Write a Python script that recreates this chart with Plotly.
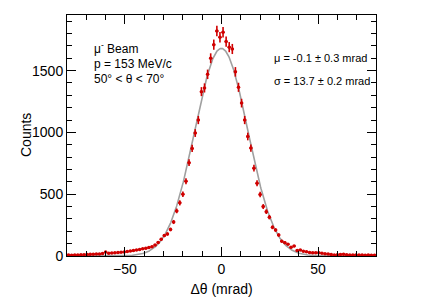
import numpy as np
import plotly.graph_objects as go

# Histogram: 100 bins from -80 to 80 mrad (width 1.6)
bin_low = -80.0
bin_width = 1.6
counts = [
    8, 6, 9, 8, 10, 11, 12, 14, 15, 16,
    17, 20, 33, 22, 24, 26, 28, 30, 33, 36,
    40, 44, 48, 52, 58, 62, 68, 75, 88, 110,
    135, 165, 178, 215, 275, 365, 430, 500, 605, 755,
    870, 995, 1100, 1330, 1360, 1470, 1600, 1710, 1820, 1770,
    1810, 1735, 1690, 1675, 1490, 1365, 1237, 1100, 967, 873,
    711, 588, 497, 400, 359, 314, 232, 210, 170, 120,
    108, 96, 70, 80, 45, 48, 38, 35, 28, 27,
    27, 27, 22, 18, 16, 12, 9, 10, 13, 14,
    11, 9, 8, 9, 8, 8, 7, 8, 6, 6,
]
centers = bin_low + bin_width * (np.arange(len(counts)) + 0.5)
errors = np.sqrt(np.array(counts, dtype=float))

# Gaussian fit parameters
fit_amp = 1680.0
fit_mu = -0.1
fit_sigma = 13.7
xf = np.linspace(-80, 80, 801)
yf = fit_amp * np.exp(-0.5 * ((xf - fit_mu) / fit_sigma) ** 2)

red = "#d00000"
fig = go.Figure()
fig.add_trace(go.Scatter(x=xf, y=yf, mode="lines",
                         line=dict(color="#a0a0a0", width=1.6),
                         hoverinfo="skip", showlegend=False))
fig.add_trace(go.Scatter(
    x=centers, y=counts, mode="markers",
    marker=dict(color=red, size=3.5, symbol="circle"),
    error_y=dict(type="data", array=errors, visible=True,
                 color=red, thickness=1.6, width=0),
    error_x=dict(type="constant", value=bin_width / 2, visible=True,
                 color=red, thickness=1.6, width=0),
    showlegend=False))

font_family = "Liberation Sans, Arial, sans-serif"
axis_common = dict(
    showline=True, linecolor="black", linewidth=1, mirror="allticks",
    ticks="inside", ticklen=9, tickwidth=1, tickcolor="black",
    showgrid=False, zeroline=False,
    tickfont=dict(family=font_family, size=14, color="black"),
)
fig.update_xaxes(range=[-80, 80], tickvals=[-50, 0, 50],
                 ticktext=["\u221250", "0", "50"],
                 minor=dict(ticks="inside", ticklen=5, tickwidth=1, tickcolor="black", dtick=10, tick0=0, showgrid=False),
                 title=dict(text="\u0394\u03b8 (mrad)", font=dict(family=font_family, size=14, color="black"), standoff=8),
                 **axis_common)
fig.update_yaxes(range=[0, 1950], tickvals=[0, 500, 1000, 1500],
                 minor=dict(ticks="inside", ticklen=5, tickwidth=1, tickcolor="black", dtick=100, tick0=0, showgrid=False),
                 **axis_common)

# The page body has an 8px default margin; compensate so the plot area
# lands at x 67..376, y 15..256 in the 443x302 window.
OFF = 8
W, H = 443 - OFF, 302 - OFF
ML, MR, MT, MB = 67 - OFF, 67, 15 - OFF, 46
PW, PH = W - ML - MR, H - MT - MB


def to_plot(px, py):
    # window pixel -> plot-area paper fraction
    return (px - OFF - ML) / PW, 1 - (py - OFF - MT) / PH


# y-axis title
tx, ty = to_plot(26, 135)
fig.add_annotation(x=tx, y=ty, xref="paper", yref="paper", text="Counts",
                   textangle=-90, showarrow=False, xanchor="center", yanchor="middle",
                   font=dict(family=font_family, size=14, color="black"))

for txt, py in [("\u03bc<sup>-</sup> Beam", 48), ("p = 153 MeV/c", 64), ("50\u00b0 < \u03b8 < 70\u00b0", 79)]:
    ax, ay = to_plot(92, py)
    fig.add_annotation(x=ax, y=ay, xref="paper", yref="paper", text=txt,
                       showarrow=False, xanchor="left", yanchor="middle",
                       font=dict(family=font_family, size=12, color="black"))
for txt, py in [("\u03bc = -0.1 \u00b1 0.3 mrad", 58), ("\u03c3 = 13.7 \u00b1 0.2 mrad", 81)]:
    ax, ay = to_plot(272, py)
    fig.add_annotation(x=ax, y=ay, xref="paper", yref="paper", text=txt,
                       showarrow=False, xanchor="left", yanchor="middle",
                       font=dict(family=font_family, size=11, color="black"))

fig.update_layout(
    width=W, height=H,
    margin=dict(l=ML, r=MR, t=MT, b=MB),
    paper_bgcolor="white", plot_bgcolor="white",
    font=dict(family=font_family, color="black"),
)

fig.write_html("out.html")
